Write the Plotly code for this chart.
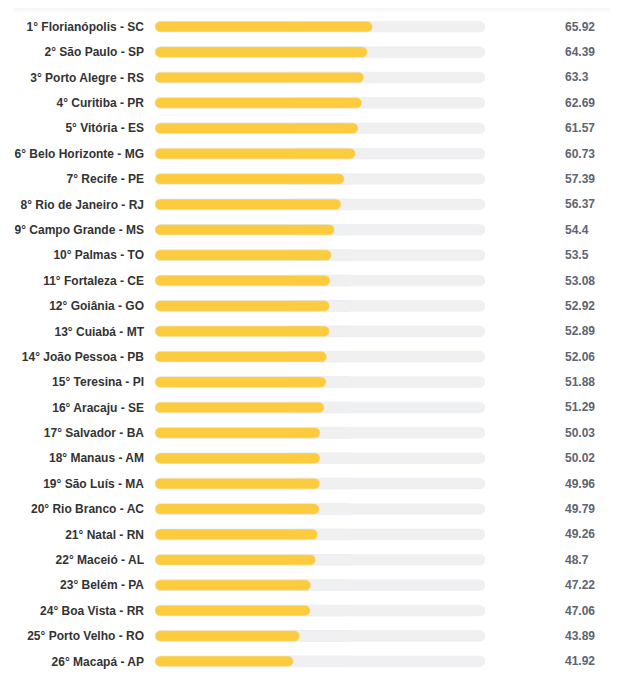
import plotly.graph_objects as go

# Ranking of cities (label on the left, score on the right)
cities = [
    '1° Florianópolis - SC', '2° São Paulo - SP', '3° Porto Alegre - RS',
    '4° Curitiba - PR', '5° Vitória - ES', '6° Belo Horizonte - MG',
    '7° Recife - PE', '8° Rio de Janeiro - RJ', '9° Campo Grande - MS',
    '10° Palmas - TO', '11° Fortaleza - CE', '12° Goiânia - GO',
    '13° Cuiabá - MT', '14° João Pessoa - PB', '15° Teresina - PI',
    '16° Aracaju - SE', '17° Salvador - BA', '18° Manaus - AM',
    '19° São Luís - MA', '20° Rio Branco - AC', '21° Natal - RN',
    '22° Maceió - AL', '23° Belém - PA', '24° Boa Vista - RR',
    '25° Porto Velho - RO', '26° Macapá - AP',
]
scores = [
    65.92, 64.39, 63.3, 62.69, 61.57, 60.73, 57.39, 56.37, 54.4, 53.5,
    53.08, 52.92, 52.89, 52.06, 51.88, 51.29, 50.03, 50.02, 49.96, 49.79,
    49.26, 48.7, 47.22, 47.06, 43.89, 41.92,
]
max_score = 100

YELLOW = '#fdcb3e'
TRACK = '#f0f0f0'
BAR_W = 0.42

fig = go.Figure()

# grey track in two overlapping pieces so both ends get rounded
n = len(cities)
fig.add_trace(go.Bar(
    y=cities, x=[-60] * n, base=[60] * n,
    orientation='h', marker=dict(color=TRACK, cornerradius=6),
    width=BAR_W, hoverinfo='skip', showlegend=False,
))
fig.add_trace(go.Bar(
    y=cities, x=[max_score - 40] * n, base=[40] * n,
    orientation='h', marker=dict(color=TRACK, cornerradius=6),
    width=BAR_W, hoverinfo='skip', showlegend=False,
))

# yellow bars, drawn from the value back to zero so the left end is rounded
fig.add_trace(go.Bar(
    y=cities, x=[-s for s in scores], base=scores,
    orientation='h', marker=dict(color=YELLOW, cornerradius=6),
    width=BAR_W, customdata=scores,
    hovertemplate='%{y}: %{customdata}<extra></extra>', showlegend=False,
))

# score text on the right
for name, s in zip(cities, scores):
    fig.add_annotation(
        x=1.2365, xref='paper', y=name, yref='y', text=str(s),
        showarrow=False, xanchor='left', yanchor='middle',
        font=dict(family='Liberation Sans, Arial', size=12,
                  color='#5d6573', weight='bold'),
    )

# faint shadow at the very top
for i, c in enumerate(['#f5f5f5', '#f9f9f9', '#fcfcfc']):
    fig.add_shape(
        type='rect', xref='paper', yref='paper',
        x0=-0.43, x1=1.38, y0=1.009 - (i + 1) * 0.0025, y1=1.009 - i * 0.0025,
        fillcolor=c, line_width=0, layer='below',
    )

# the page adds an 8px body margin, so the figure is 8px smaller
fig.update_layout(
    width=611, height=681,
    margin=dict(l=143, r=134, t=6, b=15),
    barmode='overlay',
    plot_bgcolor='white', paper_bgcolor='white',
    xaxis=dict(range=[0, max_score], visible=False, fixedrange=True),
    yaxis=dict(
        type='category', categoryorder='array', categoryarray=cities,
        autorange='reversed', showgrid=False, zeroline=False, showline=False,
        ticks='', ticklabelstandoff=10,
        tickfont=dict(family='Liberation Sans, Arial', size=12,
                      color='#333333', weight='bold'),
    ),
)

fig.write_html('out.html')
